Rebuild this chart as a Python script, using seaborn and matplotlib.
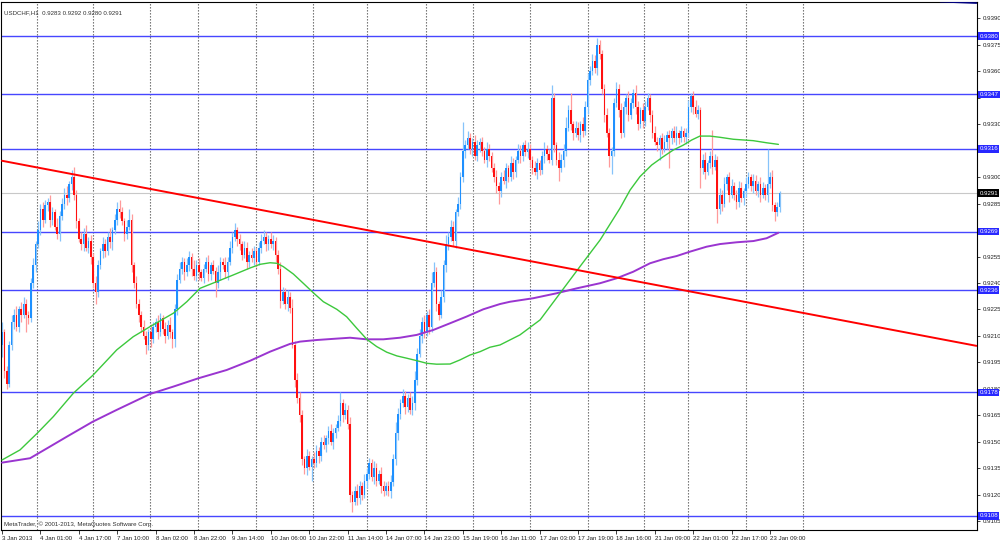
import numpy as np
import matplotlib
matplotlib.use("Agg")
import matplotlib.pyplot as plt
import matplotlib.transforms as mtransforms
import seaborn as sns

# USDCHF H1 candles, prices in pips (9283 -> 0.9283); open = previous close
first_open = 9205
close_pips = [
    9212, 9190, 9183, 9205, 9218, 9222, 9215, 9225, 9222, 9228, 9222, 9220, 9240, 9250, 9262, 9270, 9282, 9276, 9284, 9286, 9276, 9280, 9272, 9268, 9278,
    9285, 9290, 9288, 9296, 9300, 9290, 9275, 9265, 9262, 9268, 9260, 9264, 9255, 9240, 9235, 9250, 9258, 9262, 9258, 9266, 9263, 9270, 9276, 9282, 9280,
    9275, 9268, 9272, 9276, 9250, 9240, 9228, 9222, 9215, 9210, 9205, 9212, 9208, 9215, 9218, 9212, 9220, 9214, 9210, 9216, 9212, 9208, 9225, 9242, 9248,
    9252, 9246, 9250, 9255, 9248, 9244, 9250, 9246, 9243, 9248, 9252, 9245, 9250, 9247, 9240, 9246, 9252, 9250, 9246, 9252, 9260, 9266, 9270, 9265, 9262,
    9256, 9260, 9252, 9256, 9254, 9258, 9252, 9260, 9264, 9266, 9262, 9265, 9262, 9264, 9256, 9248, 9230, 9235, 9228, 9232, 9226, 9205, 9185, 9175, 9165,
    9140, 9135, 9142, 9136, 9140, 9138, 9145, 9142, 9150, 9148, 9152, 9156, 9150, 9155, 9158, 9162, 9172, 9165, 9168, 9160, 9120, 9116, 9122, 9118, 9125,
    9120, 9128, 9132, 9138, 9130, 9135, 9128, 9132, 9125, 9122, 9125, 9122, 9127, 9140, 9155, 9166, 9172, 9176, 9170, 9175, 9168, 9172, 9185, 9200, 9210,
    9218, 9212, 9222, 9215, 9240, 9246, 9228, 9222, 9232, 9250, 9262, 9266, 9272, 9264, 9280, 9285, 9300, 9315, 9318, 9322, 9316, 9320, 9312, 9318, 9320,
    9315, 9310, 9316, 9312, 9305, 9300, 9295, 9292, 9300, 9298, 9305, 9300, 9308, 9303, 9310, 9315, 9312, 9318, 9314, 9316, 9310, 9305, 9303, 9308, 9304,
    9312, 9316, 9313, 9310, 9345, 9318, 9310, 9305, 9310, 9315, 9328, 9338, 9330, 9325, 9328, 9324, 9330, 9326, 9340, 9355, 9360, 9366, 9362, 9375, 9370,
    9350, 9335, 9325, 9312, 9315, 9342, 9350, 9338, 9325, 9340, 9345, 9335, 9342, 9348, 9340, 9330, 9338, 9332, 9340, 9345, 9335, 9325, 9320, 9318, 9322,
    9316, 9320, 9324, 9322, 9326, 9322, 9325, 9322, 9326, 9323, 9325, 9340, 9346, 9340, 9336, 9338, 9305, 9310, 9303, 9308, 9312, 9306, 9310, 9282, 9290,
    9285, 9296, 9300, 9290, 9295, 9290, 9286, 9294, 9288, 9292, 9296, 9300, 9295, 9298, 9292, 9296, 9290, 9294, 9290, 9296, 9300, 9284, 9280, 9283, 9291,
]
# wick length above / below the body, in pips
upper_wick = [
    6, 2, 3, 2, 4, 3, 5, 2, 4, 4, 3, 2, 3, 4, 2, 5, 3, 4, 3, 2, 4, 3, 2, 5, 3,
    3, 4, 5, 2, 4, 6, 3, 2, 4, 3, 5, 2, 3, 2, 4, 3, 2, 4, 3, 3, 5, 2, 3, 4, 5,
    3, 2, 4, 6, 3, 2, 4, 3, 2, 4, 3, 2, 5, 3, 2, 4, 3, 2, 4, 3, 5, 2, 3, 3, 4,
    3, 2, 4, 3, 2, 5, 3, 4, 2, 3, 3, 4, 2, 3, 2, 4, 3, 2, 5, 3, 4, 3, 4, 2, 3,
    2, 4, 3, 2, 4, 3, 2, 3, 4, 4, 3, 2, 4, 3, 2, 3, 4, 3, 2, 4, 3, 5, 2, 4, 3,
    3, 2, 4, 3, 2, 4, 3, 2, 3, 4, 2, 3, 4, 3, 2, 3, 6, 2, 4, 3, 4, 2, 3, 4, 3,
    2, 4, 3, 3, 2, 4, 3, 2, 4, 3, 2, 3, 4, 3, 6, 3, 2, 4, 3, 2, 3, 4, 5, 3, 4,
    3, 4, 2, 3, 6, 6, 3, 2, 4, 3, 5, 3, 4, 3, 2, 4, 3, 16, 3, 4, 3, 2, 4, 3, 2,
    3, 2, 4, 3, 2, 3, 4, 2, 3, 4, 3, 2, 4, 3, 2, 4, 3, 2, 3, 4, 3, 2, 4, 3, 2,
    3, 4, 2, 3, 7, 3, 2, 4, 3, 4, 6, 3, 10, 2, 4, 3, 2, 4, 3, 4, 3, 4, 3, 4, 3,
    2, 3, 4, 3, 2, 3, 4, 3, 4, 3, 2, 4, 3, 2, 4, 3, 2, 4, 3, 3, 2, 3, 4, 3, 2,
    3, 4, 2, 3, 2, 3, 4, 2, 3, 2, 3, 4, 2, 3, 4, 3, 2, 3, 4, 2, 3, 15, 3, 2, 4,
    3, 4, 2, 3, 4, 2, 3, 4, 3, 2, 4, 3, 2, 4, 3, 2, 4, 3, 2, 20, 3, 4, 2, 3, 1,
]
lower_wick = [
    7, 4, 3, 2, 3, 4, 2, 3, 4, 2, 10, 3, 2, 3, 4, 2, 3, 4, 2, 3, 4, 3, 2, 3, 4,
    2, 3, 4, 2, 3, 3, 4, 2, 3, 4, 2, 3, 4, 3, 7, 3, 2, 4, 3, 2, 3, 4, 2, 3, 3,
    2, 4, 3, 2, 4, 3, 2, 4, 3, 2, 5, 3, 4, 2, 3, 4, 2, 3, 4, 2, 3, 5, 4, 3, 2,
    3, 4, 2, 3, 4, 2, 3, 4, 2, 3, 2, 4, 3, 2, 8, 3, 4, 2, 3, 4, 2, 3, 2, 4, 3,
    3, 2, 4, 3, 2, 4, 3, 2, 3, 2, 4, 3, 2, 3, 4, 3, 4, 2, 3, 4, 3, 2, 4, 3, 4,
    3, 3, 4, 2, 8, 3, 2, 4, 3, 2, 4, 3, 2, 4, 3, 2, 3, 4, 2, 3, 4, 6, 2, 4, 3,
    3, 2, 4, 3, 2, 4, 3, 2, 4, 3, 2, 3, 4, 2, 3, 4, 3, 2, 4, 3, 2, 3, 4, 3, 2,
    4, 3, 2, 4, 3, 2, 4, 3, 2, 3, 4, 3, 2, 3, 4, 2, 3, 3, 4, 2, 3, 4, 2, 3, 4,
    3, 2, 4, 3, 2, 3, 4, 7, 3, 2, 4, 3, 2, 4, 3, 2, 4, 3, 2, 3, 4, 3, 2, 4, 3,
    2, 4, 3, 2, 3, 4, 3, 7, 2, 4, 3, 2, 3, 4, 2, 3, 4, 3, 2, 4, 3, 2, 3, 4, 3,
    3, 4, 2, 6, 10, 3, 2, 4, 3, 2, 4, 3, 2, 3, 4, 3, 2, 4, 3, 2, 4, 3, 2, 3, 8,
    3, 2, 4, 17, 3, 2, 4, 3, 2, 3, 4, 2, 3, 4, 2, 3, 11, 3, 4, 2, 3, 4, 2, 8, 3,
    4, 2, 3, 4, 2, 3, 4, 3, 2, 4, 3, 2, 3, 4, 2, 3, 4, 2, 3, 4, 2, 3, 5, 2, 3,
]

# moving averages (bar position, price)
ma_fast_bars = [0, 7.5, 14.7, 21.4, 29.7, 38, 47.8, 54.7, 61.7, 71.4, 77, 82.5, 89.5, 96.4, 103.3, 107.5,
                111.7, 114.5, 117.2, 121.4, 125.5, 129.7, 133.9, 139.5, 143.6, 147.8, 152, 156.1, 160.3,
                164.5, 168.6, 172.8, 177, 181.1, 186.7, 190.8, 195, 199.2, 203.3, 207.5, 215.8, 224.2,
                232.5, 240.8, 249.2, 257.5, 261.7, 265.8, 270.7, 275.5, 279.7, 283.9, 287.4, 290.8, 295,
                299.2, 304.7, 313, 318.6, 323.5]
ma_fast = [0.91397, 0.91454, 0.91549, 0.91643, 0.91775, 0.91879, 0.92021, 0.92096, 0.92153, 0.92229,
           0.92294, 0.92370, 0.92408, 0.92446, 0.92485, 0.92506, 0.92515, 0.92512, 0.92493, 0.92451,
           0.92399, 0.92345, 0.92294, 0.92251, 0.92209, 0.92144, 0.92081, 0.92040, 0.92008, 0.91987,
           0.91974, 0.91960, 0.91945, 0.91940, 0.91941, 0.91964, 0.91992, 0.92011, 0.92036, 0.92049,
           0.92106, 0.92191, 0.92342, 0.92493, 0.92644, 0.92824, 0.92927, 0.93003, 0.93069, 0.93116,
           0.93154, 0.93182, 0.93211, 0.93233, 0.93233, 0.93226, 0.93215, 0.93207, 0.93195, 0.93186]
ma_slow_bars = [0, 11.7, 20, 27, 37.8, 47.8, 61.7, 71.4, 81.8, 93.6, 103.3, 111.7, 120, 124.2, 131.1,
                139.5, 145, 151.9, 158.9, 165.8, 172.8, 179.7, 186.7, 193.6, 200.5, 207.5, 211.7, 221.4,
                231.1, 239.5, 249.2, 256.1, 263, 270, 275.5, 281.1, 286.7, 293.6, 299.2, 306.1, 313.1,
                318.6, 323.5]
ma_slow = [0.91382, 0.91407, 0.91473, 0.91529, 0.91614, 0.91681, 0.91771, 0.91813, 0.91860, 0.91907,
           0.91959, 0.92011, 0.92055, 0.92068, 0.92077, 0.92085, 0.92090, 0.92081, 0.92081, 0.92090,
           0.92106, 0.92134, 0.92172, 0.92210, 0.92251, 0.92281, 0.92294, 0.92314, 0.92342, 0.92370,
           0.92399, 0.92427, 0.92464, 0.92512, 0.92535, 0.92553, 0.92578, 0.92606, 0.92621, 0.92631,
           0.92638, 0.92654, 0.92685]

trend_bars = [0, 406]
trend_prices = [0.93093, 0.92044]
top_line_bars = [391, 406]
top_line_prices = [0.93995, 0.93987]

levels = [0.9380, 0.9347, 0.9316, 0.9269, 0.9236, 0.9178, 0.9108]
last_price = 0.9291
price_ticks = [0.9105, 0.9120, 0.9135, 0.9150, 0.9165, 0.9180, 0.9195, 0.9210, 0.9225, 0.9240,
               0.9255, 0.9270, 0.9285, 0.9300, 0.9315, 0.9330, 0.9345, 0.9360, 0.9375, 0.9390]
# tick labels hidden behind the level boxes on the price scale
covered_ticks = [0.9270, 0.9315, 0.9345]

date_labels = ["3 Jan 2013", "4 Jan 01:00", "4 Jan 17:00", "7 Jan 10:00", "8 Jan 02:00", "8 Jan 22:00",
               "9 Jan 14:00", "10 Jan 06:00", "10 Jan 22:00", "11 Jan 14:00", "14 Jan 07:00", "14 Jan 23:00",
               "15 Jan 19:00", "16 Jan 11:00", "17 Jan 03:00", "17 Jan 19:00", "18 Jan 16:00", "21 Jan 09:00",
               "22 Jan 01:00", "22 Jan 17:00", "23 Jan 09:00"]
date_bars = list(range(0, 321, 16))
day_grid_bars = [14.6, 37.9, 61.7, 81.7, 105.8, 129.6, 152, 176.7, 196.3, 220, 244.2, 267.5, 285.8, 310, 333.75]

# ---- build candles
c = np.array(close_pips) / 1e4
o = np.array([first_open] + close_pips[:-1]) / 1e4
hi = np.maximum(o, c) + np.array(upper_wick) / 1e4
lo = np.minimum(o, c) - np.array(lower_wick) / 1e4
idx = np.arange(len(c))
bull = c >= o

sns.set_theme(style="white")
plt.rcParams['font.family'] = ['Liberation Sans', 'DejaVu Sans']

fig = plt.figure(figsize=(10, 5.41), dpi=100)
ax = fig.add_axes([0.001, 0.0203, 0.976, 0.9760])
ax.set_facecolor("white")

for gx in day_grid_bars:
    ax.axvline(gx, color="#606060", lw=0.8, ls=(0, (1.2, 1.5)), zorder=1)

for lv in levels:
    ax.axhline(lv, color="#4646FF", lw=1.0, zorder=1.5)
ax.axhline(last_price, color="#C8C8C8", lw=0.8, zorder=1.4)

wick_col = np.where(bull, "#86C3FA", "#FF9A9A")
body_col = np.where(bull, "#1E90FF", "#FF1010")
ax.vlines(idx, lo, hi, colors=wick_col, lw=0.9, zorder=2)
ax.bar(idx, np.maximum(np.abs(c - o), 0.00003), bottom=np.minimum(o, c), width=0.62,
       color=body_col, linewidth=0, zorder=2.2)

sns.lineplot(x=ma_slow_bars, y=ma_slow, ax=ax, color="#9A35D0", lw=1.4, zorder=3)
sns.lineplot(x=ma_fast_bars, y=ma_fast, ax=ax, color="#3CC83C", lw=1.0, zorder=3)
sns.lineplot(x=trend_bars, y=trend_prices, ax=ax, color="#FF0000", lw=1.4, zorder=3.2)
sns.lineplot(x=top_line_bars, y=top_line_prices, ax=ax, color="#000080", lw=1.2, zorder=3.2)

ax.set_xlim(-0.42, 406.25)
ax.set_ylim(0.9100, 0.93993)
ax.set_xlabel("")
ax.set_ylabel("")

ax.yaxis.tick_right()
ax.set_yticks(price_ticks)
ax.set_yticklabels(["" if any(abs(p - q) < 1e-6 for q in covered_ticks) else f"{p:.4f}"
                    for p in price_ticks])
ax.tick_params(axis="y", direction="out", length=2.5, width=0.6, pad=1.5, labelsize=4.4,
               colors="#202020", right=True, left=False)
ax.set_xticks(date_bars)
ax.set_xticklabels(date_labels, ha="left")
ax.tick_params(axis="x", direction="out", length=3, width=0.6, pad=1.0, labelsize=4.4,
               colors="#202020", bottom=True)
for s in ax.spines.values():
    s.set_color("black")
    s.set_linewidth(0.8)

trans = mtransforms.blended_transform_factory(ax.transAxes, ax.transData)
for lv in levels:
    ax.text(1.0025, lv, f"{lv:.4f}", transform=trans, ha="left", va="center", fontsize=4.4,
            color="white", clip_on=False, zorder=6,
            bbox=dict(boxstyle="square,pad=0.18", fc="#2828FF", ec="none"))
ax.text(1.0025, last_price, f"{last_price:.4f}", transform=trans, ha="left", va="center", fontsize=4.4,
        color="white", clip_on=False, zorder=6,
        bbox=dict(boxstyle="square,pad=0.18", fc="black", ec="none"))

ax.text(0.003, 0.985, "USDCHF,H1  0.9283 0.9292 0.9280 0.9291", transform=ax.transAxes,
        ha="left", va="top", fontsize=4.4, color="#303030")
ax.text(0.003, 0.006, "MetaTrader, \u00a9 2001-2013, MetaQuotes Software Corp.", transform=ax.transAxes,
        ha="left", va="bottom", fontsize=4.4, color="#303030")

fig.savefig("out.png", dpi=100, facecolor="white")
